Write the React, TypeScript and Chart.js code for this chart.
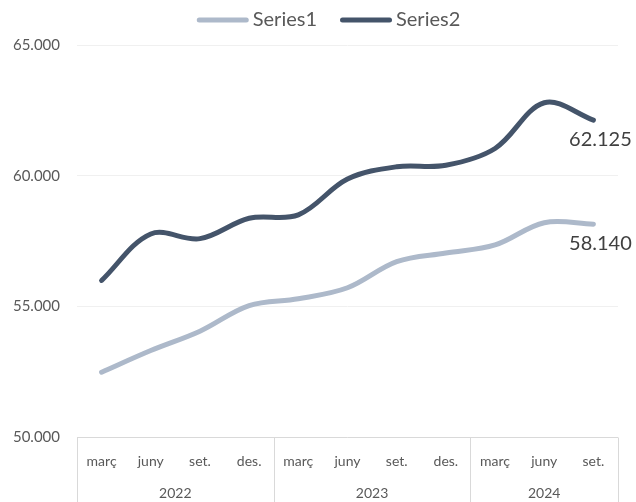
import { useEffect, useRef } from "react";
import { Chart, registerables } from "chart.js";

Chart.register(...registerables);

// ---- data ----
const quarters = ["març", "juny", "set.", "des.", "març", "juny", "set.", "des.", "març", "juny", "set."];
const categoryYears = ["2022", "2022", "2022", "2022", "2023", "2023", "2023", "2023", "2024", "2024", "2024"];
const seriesNames = ["Series1", "Series2"];
const series1 = [52480, 53310, 54050, 55030, 55290, 55710, 56710, 57040, 57350, 58200, 58140];
const series2 = [55990, 57770, 57590, 58370, 58500, 59870, 60340, 60400, 61040, 62790, 62125];
const seriesColors = ["#ADB9CA", "#44546A"];
const yMin = 50000;
const yMax = 65000;
const yStep = 5000;

const FONT = "Lato";
const TEXT = "#595959";

function fmt(v: number): string {
  return String(Math.round(v)).replace(/\B(?=(\d{3})+(?!\d))/g, ".");
}

const groupAxisPlugin = {
  id: "groupAxis",
  afterDraw(chart: any) {
    const { ctx, chartArea } = chart;
    const xs = chart.scales.x;
    const n = quarters.length;
    const half = (xs.getPixelForValue(1) - xs.getPixelForValue(0)) / 2;
    const bottom = chart.height;
    ctx.save();
    ctx.strokeStyle = "#D9D9D9";
    ctx.lineWidth = 1;
    const ay = Math.round(chartArea.bottom) + 0.5;
    ctx.beginPath();
    ctx.moveTo(chartArea.left, ay);
    ctx.lineTo(chartArea.right, ay);
    ctx.stroke();
    const vline = (px: number) => {
      const xx = Math.round(px) + 0.5;
      ctx.beginPath();
      ctx.moveTo(xx, ay);
      ctx.lineTo(xx, bottom);
      ctx.stroke();
    };
    let start = 0;
    ctx.fillStyle = TEXT;
    ctx.font = `14px ${FONT}`;
    ctx.textAlign = "center";
    ctx.textBaseline = "middle";
    vline(xs.getPixelForValue(0) - half);
    for (let i = 1; i <= n; i++) {
      if (i === n || categoryYears[i] !== categoryYears[start]) {
        const left = xs.getPixelForValue(start) - half;
        const right = xs.getPixelForValue(i - 1) + half;
        vline(right);
        ctx.fillText(categoryYears[start], (left + right) / 2, 493);
        start = i;
      }
    }
    ctx.restore();
  },
};

const legendPlugin = {
  id: "customLegend",
  afterDraw(chart: any) {
    const { ctx } = chart;
    const ds = chart.data.datasets;
    const swatch = 52;
    const gap = 4;
    const itemGap = 23;
    ctx.save();
    ctx.font = `20px ${FONT}`;
    const widths = ds.map((d: any) => swatch + gap + ctx.measureText(d.label).width);
    const total = widths.reduce((a: number, b: number) => a + b, 0) + itemGap * (ds.length - 1);
    let x = 328.5 - total / 2;
    const y = 20;
    ds.forEach((d: any, i: number) => {
      ctx.strokeStyle = d.borderColor;
      ctx.lineWidth = 5;
      ctx.lineCap = "round";
      ctx.beginPath();
      ctx.moveTo(x + 2.5, y);
      ctx.lineTo(x + swatch - 2.5, y);
      ctx.stroke();
      ctx.fillStyle = TEXT;
      ctx.textAlign = "left";
      ctx.textBaseline = "middle";
      ctx.fillText(d.label, x + swatch + gap, y);
      x += widths[i] + itemGap;
    });
    ctx.restore();
  },
};

const lastLabelPlugin = {
  id: "lastLabel",
  afterDatasetsDraw(chart: any) {
    const { ctx } = chart;
    ctx.save();
    ctx.font = `20px ${FONT}`;
    ctx.fillStyle = "#404040";
    ctx.textAlign = "center";
    ctx.textBaseline = "middle";
    chart.data.datasets.forEach((d: any, i: number) => {
      const meta = chart.getDatasetMeta(i);
      const last = meta.data.length - 1;
      const el = meta.data[last];
      ctx.fillText(fmt(d.data[last]), el.x + 7, el.y + 19);
    });
    ctx.restore();
  },
};

export default function App() {
  const ref = useRef<HTMLCanvasElement | null>(null);
  useEffect(() => {
    document.body.style.margin = "0";
    if (!ref.current) return;
    const data = [series1, series2];
    const chart = new Chart(ref.current, {
      type: "line",
      data: {
        labels: quarters,
        datasets: seriesNames.map((name, i) => ({
          label: name,
          data: data[i],
          borderColor: seriesColors[i],
          backgroundColor: seriesColors[i],
          borderWidth: 5,
          borderCapStyle: "round" as const,
          borderJoinStyle: "round" as const,
          pointRadius: 0,
          pointHoverRadius: 0,
          tension: 0.35,
          fill: false,
        })),
      },
      options: {
        animation: false,
        responsive: true,
        maintainAspectRatio: false,
        layout: { padding: { top: 45, right: 18, left: 0, bottom: 0 } },
        plugins: {
          legend: { display: false },
          tooltip: { enabled: false },
        },
        scales: {
          x: {
            type: "category",
            offset: true,
            grid: { display: false, drawTicks: false },
            border: { display: false },
            ticks: {
              color: TEXT,
              font: { family: FONT, size: 14 },
              padding: 16,
              maxRotation: 0,
              autoSkip: false,
            },
            afterFit(scale: any) {
              scale.height = 65;
            },
          },
          y: {
            min: yMin,
            max: yMax,
            ticks: {
              stepSize: yStep,
              color: TEXT,
              font: { family: FONT, size: 15 },
              padding: 17,
              callback: (v: any) => fmt(Number(v)),
            },
            grid: { color: "#F0F0F0", drawTicks: false },
            border: { display: false },
            afterFit(scale: any) {
              scale.width = 77;
            },
          },
        },
      },
      plugins: [groupAxisPlugin, legendPlugin, lastLabelPlugin],
    });
    return () => chart.destroy();
  }, []);
  return (
    <div style={{ position: "relative", width: 636, height: 502 }}>
      <canvas ref={ref} />
    </div>
  );
}
